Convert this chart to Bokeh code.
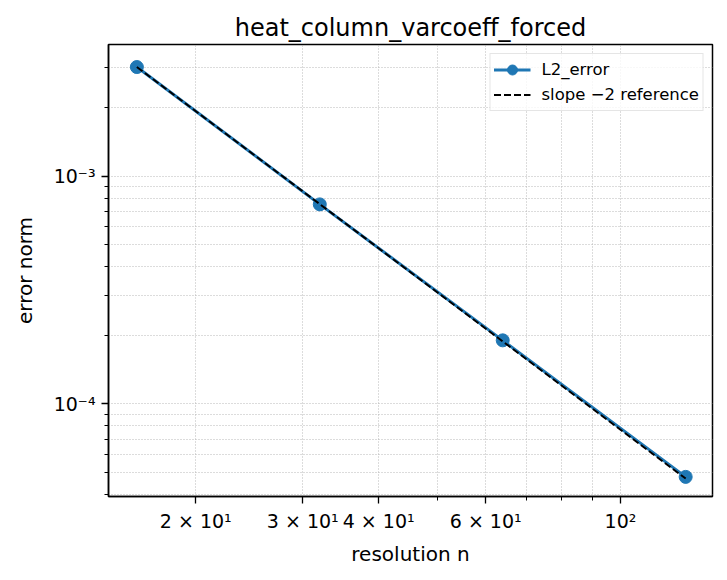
from bokeh.plotting import figure
from bokeh.models import FixedTicker, Legend, LegendItem
from bokeh.embed import file_html
from bokeh.resources import INLINE

# data
resolution_n = [16, 32, 64, 128]
l2_error = [3.01e-3, 7.51e-4, 1.90e-4, 4.78e-5]
slope_ref = [3.01e-3, 7.53e-4, 1.88e-4, 4.70e-5]

x_ticks = [20, 30, 40, 60, 100]
x_tick_labels = ["2 × 10¹", "3 × 10¹", "4 × 10¹", "6 × 10¹", "10²"]
x_minor = [50, 70, 80, 90]
y_ticks = [1e-4, 1e-3]
y_tick_labels = ["10⁻⁴", "10⁻³"]
y_minor = [4e-5, 5e-5, 6e-5, 7e-5, 8e-5, 9e-5, 2e-4, 3e-4, 4e-4, 5e-4, 6e-4, 7e-4, 8e-4, 9e-4, 2e-3, 3e-3]

FONT = "DejaVu Sans"

p = figure(width=719, height=572, x_axis_type="log", y_axis_type="log",
           x_range=(14.37, 141.7), y_range=(3.92e-5, 3.78e-3),
           output_backend="svg", toolbar_location=None,
           title="heat_column_varcoeff_forced",
           min_border_left=108, min_border_right=7, min_border_top=44, min_border_bottom=76)

p.title.align = "center"
p.title.text_font = FONT
p.title.text_font_size = "24px"
p.title.text_font_style = "normal"
p.title.text_color = "black"
p.title.standoff = 6

p.outline_line_color = "black"
p.outline_line_width = 1.5
p.outline_line_alpha = 1

p.xaxis.ticker = FixedTicker(ticks=x_ticks, minor_ticks=x_minor)
p.xaxis.major_label_overrides = {t: l for t, l in zip(x_ticks, x_tick_labels)}
p.yaxis.ticker = FixedTicker(ticks=y_ticks, minor_ticks=y_minor)
p.yaxis.major_label_overrides = {t: l for t, l in zip(y_ticks, y_tick_labels)}

for ax in (p.xaxis, p.yaxis):
    ax.major_label_text_font = FONT
    ax.major_label_text_font_size = "19px"
    ax.major_label_text_color = "black"
    ax.axis_label_text_font = FONT
    ax.axis_label_text_font_size = "20px"
    ax.axis_label_text_font_style = "normal"
    ax.axis_label_text_color = "black"
    ax.major_tick_in = 0
    ax.major_tick_out = 7
    ax.minor_tick_in = 0
    ax.minor_tick_out = 4
    ax.major_label_standoff = 6
    ax.axis_line_color = "black"
    ax.axis_line_width = 1.5
    ax.major_tick_line_color = "black"
    ax.major_tick_line_width = 1.3
    ax.minor_tick_line_color = "black"
    ax.minor_tick_line_width = 1.0

p.xaxis.axis_label = "resolution n"
p.yaxis.axis_label = "error norm"
p.xaxis.axis_label_standoff = 7
p.yaxis.axis_label_standoff = 14
p.yaxis.major_label_orientation = "horizontal"

for g in (p.xgrid, p.ygrid):
    g.grid_line_color = "#b0b0b0"
    g.grid_line_dash = "1 2"
    g.grid_line_width = 0.9
    g.minor_grid_line_color = "#b0b0b0"
    g.minor_grid_line_dash = "1 2"
    g.minor_grid_line_width = 0.9

l1 = p.line(resolution_n, l2_error, line_color="#1f77b4", line_width=3)
c1 = p.scatter(resolution_n, l2_error, size=13, fill_color="#1f77b4", line_color="#1f77b4")
l2 = p.line(resolution_n, slope_ref, line_color="black", line_width=2, line_dash="7 3")

legend = Legend(items=[LegendItem(label="L2_error", renderers=[l1, c1]),
                       LegendItem(label="slope −2 reference", renderers=[l2])],
                location="top_right")
legend.label_text_font = FONT
legend.label_text_font_size = "16.5px"
legend.label_text_color = "black"
legend.border_line_color = "#cccccc"
legend.border_line_width = 1.5
legend.background_fill_alpha = 0.8
legend.glyph_width = 37
legend.glyph_height = 25
legend.label_height = 25
legend.label_standoff = 11
legend.spacing = 0
legend.padding = 3
legend.margin = 9
p.add_layout(legend)

open("out.html", "w").write(file_html(p, INLINE))
